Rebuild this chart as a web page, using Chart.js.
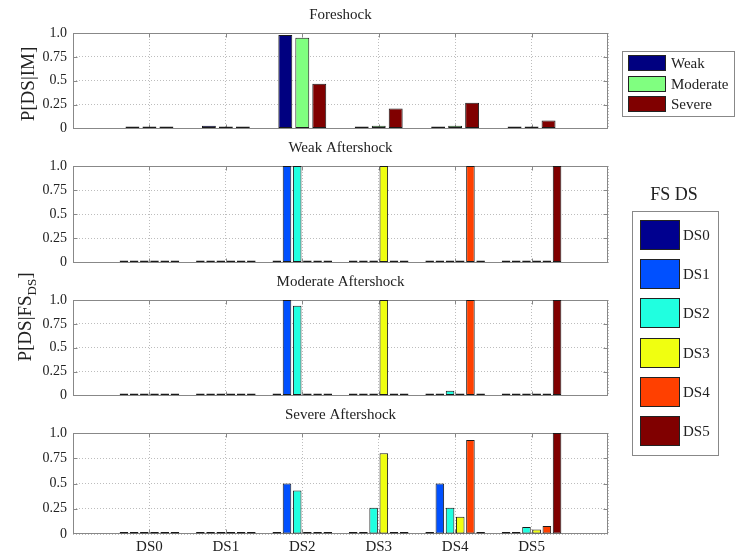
<!DOCTYPE html>
<html>
<head>
<meta charset="utf-8">
<script src="https://cdn.jsdelivr.net/npm/chart.js@4.4.1/dist/chart.umd.min.js"></script>
<style>
body { margin: 0; background: #fff; }
#wrap { position: relative; width: 735px; height: 556px; overflow: hidden; font-family: 'Liberation Serif', serif; color: #222; }
#wrap canvas { position: absolute; left: 0; }
.ylab { position: absolute; transform: translate(-50%, -50%) rotate(-90deg); white-space: nowrap; font-size: 19px; }
.ylab sub { font-size: 13px; }
.legend { position: absolute; border: 1px solid #888; background: #fff; box-sizing: border-box; }
.sw { position: absolute; border: 1px solid #222; box-sizing: border-box; }
.lt { position: absolute; font-size: 15px; white-space: nowrap; }
#fsds { position: absolute; left: 674px; top: 194px; transform: translate(-50%, -50%); font-size: 18px; }
</style>
</head>
<body>
<div id="wrap">
  <canvas id="c0"></canvas>
  <canvas id="c1"></canvas>
  <canvas id="c2"></canvas>
  <canvas id="c3"></canvas>
  <div class="ylab" style="left:28px;top:84px">P[DS|IM]</div>
  <div class="ylab" style="left:27px;top:317px">P[DS|FS<sub>DS</sub>]</div>
  <div id="fsds">FS DS</div>
  <div class="legend" id="leg1" style="left:622px;top:51px;width:113px;height:66px"></div>
  <div class="legend" id="leg2" style="left:632px;top:211px;width:87px;height:245px"></div>
</div>
<script>
// categories (damage states) and y tick labels
const dsLabels = ['DS0', 'DS1', 'DS2', 'DS3', 'DS4', 'DS5'];
const yTickLabels = ['0', '0.25', '0.5', '0.75', '1.0'];

// foreshock: P[DS|IM]
const foreNames = ['Weak', 'Moderate', 'Severe'];
const foreWeak     = [0, 0.03, 0.98, 0.01, 0, 0];
const foreModerate = [0, 0, 0.95, 0.03, 0.03, 0.015];
const foreSevere   = [0, 0, 0.47, 0.21, 0.27, 0.085];

// aftershocks: one row per foreshock damage state (DS0..DS5)
const fsNames = ['DS0', 'DS1', 'DS2', 'DS3', 'DS4', 'DS5'];
const weakAfter = [
  [0, 0, 0, 0, 0, 0],
  [0, 0, 1, 0, 0, 0],
  [0, 0, 1, 0, 0, 0],
  [0, 0, 0, 1, 0, 0],
  [0, 0, 0, 0, 1, 0],
  [0, 0, 0, 0, 0, 1]
];
const moderateAfter = [
  [0, 0, 0, 0, 0, 0],
  [0, 0, 1, 0, 0, 0],
  [0, 0, 0.94, 0.02, 0.05, 0],
  [0, 0, 0, 1, 0, 0],
  [0, 0, 0, 0, 1, 0],
  [0, 0, 0, 0, 0, 1]
];
const severeAfter = [
  [0, 0, 0, 0, 0, 0],
  [0, 0, 0.5, 0, 0.5, 0],
  [0, 0, 0.43, 0.26, 0.26, 0.07],
  [0, 0, 0, 0.8, 0.17, 0.045],
  [0, 0, 0, 0, 0.93, 0.08],
  [0, 0, 0, 0, 0, 1]
];

const foreColors = ['#000080', '#80ff80', '#800000'];
const fsColors = ['#00008f', '#0050ff', '#20ffe0', '#f0ff10', '#ff4000', '#800000'];

const FONT = 'Liberation Serif';

// grey box round the plot area with small inward ticks
const framePlugin = {
  id: 'frame',
  beforeDatasetsDraw(chart) {
    const a = chart.chartArea, ctx = chart.ctx;
    const l = Math.round(a.left) + 0.5, r = Math.round(a.right) - 0.5;
    const t = Math.round(a.top) + 0.5, b = Math.round(a.bottom) - 0.5;
    ctx.save();
    ctx.strokeStyle = '#888';
    ctx.lineWidth = 1;
    ctx.strokeRect(l, t, r - l, b - t);
    ctx.beginPath();
    const xs = chart.scales.x;
    for (let i = 1; i < xs.ticks.length - 1; i++) {
      const px = Math.round(xs.getPixelForTick(i)) + 0.5;
      ctx.moveTo(px, t); ctx.lineTo(px, t + 4);
      ctx.moveTo(px, b); ctx.lineTo(px, b - 4);
    }
    const ys = chart.scales.y;
    for (let i = 1; i < ys.ticks.length - 1; i++) {
      const py = Math.round(ys.getPixelForTick(i)) + 0.5;
      ctx.moveTo(l, py); ctx.lineTo(l + 4, py);
      ctx.moveTo(r, py); ctx.lineTo(r - 4, py);
    }
    ctx.stroke();
    ctx.restore();
  }
};

// one empty slot on each side of the groups, like the reference x range
const padLabels = [''].concat(dsLabels, ['']);
const pad = (arr) => [null].concat(arr, [null]);

function drawPanel(id, top, plotH, title, rows, names, colors, showX) {
  const xh = showX ? 22 : 10;
  const cv = document.getElementById(id);
  cv.width = 735;
  cv.height = 33 + plotH + xh;
  cv.style.top = (top - 33) + 'px';

  const n = rows.length;
  new Chart(cv, {
    type: 'bar',
    data: {
      labels: padLabels,
      datasets: rows.map((r, i) => ({
        label: names[i],
        data: pad(r),
        backgroundColor: colors[i],
        borderColor: '#1a1a1a',
        borderWidth: 1,
        borderSkipped: false,
        minBarLength: 2,
        categoryPercentage: n / (n + 1.5),
        barPercentage: n == 3 ? 0.82 : 0.84,
      })),
    },
    options: {
      responsive: false,
      animation: false,
      devicePixelRatio: 1,
      layout: { padding: { left: 0, right: 127, top: 0, bottom: 0 } },
      plugins: {
        legend: { display: false },
        tooltip: { enabled: false },
        title: {
          display: true,
          text: title,
          fullSize: false,
          color: '#222',
          font: { family: FONT, size: 15, weight: 'normal' },
          padding: { top: 6, bottom: 9 },
        },
      },
      scales: {
        x: {
          type: 'category',
          offset: false,
          grid: { offset: false, color: '#bdbdbd', drawTicks: false, tickLength: 0 },
          border: { display: false, dash: [1, 2] },
          ticks: {
            display: showX,
            autoSkip: false,
            maxRotation: 0,
            padding: 4,
            color: '#222',
            font: { family: FONT, size: 15 },
          },
          afterFit: (s) => { s.height = xh; },
        },
        y: {
          min: 0,
          max: 1,
          grid: { color: '#bdbdbd', drawTicks: false, tickLength: 0 },
          border: { display: false, dash: [1, 2] },
          ticks: {
            stepSize: 0.25,
            padding: 6,
            color: '#222',
            font: { family: FONT, size: 14 },
            callback: (v) => yTickLabels[Math.round(v * 4)],
          },
          afterFit: (s) => { s.width = 73; },
        },
      },
    },
    plugins: [framePlugin],
  });
}

drawPanel('c0', 33, 100, 'Foreshock', [foreWeak, foreModerate, foreSevere], foreNames, foreColors, false);
drawPanel('c1', 166, 101, 'Weak Aftershock', weakAfter, fsNames, fsColors, false);
drawPanel('c2', 300, 100, 'Moderate Aftershock', moderateAfter, fsNames, fsColors, false);
drawPanel('c3', 433, 101, 'Severe Aftershock', severeAfter, fsNames, fsColors, true);

// legends
function buildLegend(elId, names, colors, sw, step, x0, y0, tx) {
  const box = document.getElementById(elId);
  names.forEach((nm, i) => {
    const s = document.createElement('div');
    s.className = 'sw';
    s.style.cssText = `left:${x0}px;top:${y0 + i * step}px;width:${sw[0]}px;height:${sw[1]}px;background:${colors[i]}`;
    box.appendChild(s);
    const t = document.createElement('div');
    t.className = 'lt';
    t.textContent = nm;
    t.style.cssText = `left:${tx}px;top:${y0 + i * step + sw[1] / 2 - 9}px;line-height:18px`;
    box.appendChild(t);
  });
}
buildLegend('leg1', foreNames, foreColors, [38, 16], 20.5, 5, 3, 48);
buildLegend('leg2', fsNames, fsColors, [40, 30], 39.2, 7, 8, 50);
</script>
</body>
</html>
